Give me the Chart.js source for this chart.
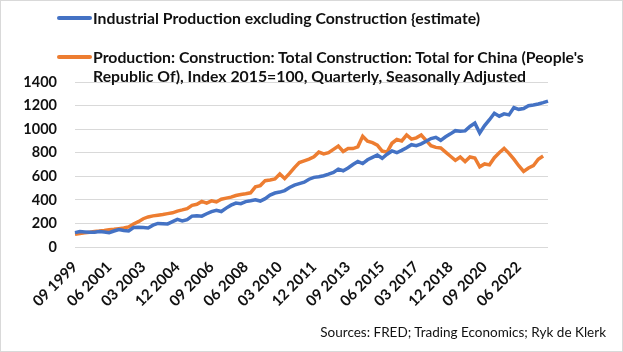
<!DOCTYPE html>
<html>
<head>
<meta charset="utf-8">
<script src="https://cdn.jsdelivr.net/npm/chart.js@4.4.1/dist/chart.umd.min.js"></script>
<style>
  body { margin:0; background:#fff; }
  #wrap { position:relative; width:623px; height:352px; overflow:hidden; }
  #frame { position:absolute; left:0; top:0; width:623px; height:352px; box-sizing:border-box; border:1px solid #d9d9d9; pointer-events:none; }
  .lg-line { position:absolute; left:57px; width:35px; height:4px; border-radius:2px; }
  .lg-text { position:absolute; left:93px; font-family:Lato, 'Open Sans', sans-serif; font-weight:bold; font-size:15.8px; line-height:19px; color:#111; white-space:nowrap; }
  #src { position:absolute; right:17px; top:324px; font-family:Lato, 'Open Sans', sans-serif; font-size:13.5px; color:#111; white-space:nowrap; }
</style>
</head>
<body>
<div id="wrap">
  <canvas id="chart" width="623" height="352"></canvas>
  <div class="lg-line" style="top:16px;background:#4472c4"></div>
  <div class="lg-text" style="top:8px">Industrial Production excluding Construction {estimate)</div>
  <div class="lg-line" style="top:55px;background:#ed7d31"></div>
  <div class="lg-text" style="top:47px">Production: Construction: Total Construction: Total for China (People's<br>Republic Of), Index 2015=100, Quarterly, Seasonally Adjusted</div>
  <div id="src">Sources: FRED; Trading Economics; Ryk de Klerk</div>
  <div id="frame"></div>
</div>
<script>
// quarterly, Q3 1999 .. Q4 2023
const START_YEAR = 1999, START_Q = 3, N_QUARTERS = 98;
const MONTHS = ['03', '06', '09', '12'];
const LABEL_EVERY = 7;

const industrial = [
  122, 131, 128, 125, 126, 131, 128, 122, 136, 148,
  140, 136, 165, 167, 165, 162, 185, 200, 198, 196,
  215, 234, 222, 232, 262, 266, 262, 282, 300, 312,
  301, 330, 355, 373, 368, 385, 392, 400, 390, 410,
  440, 458, 466, 479, 505, 525, 538, 550, 575, 591,
  596, 605, 618, 633, 661, 647, 670, 700, 725, 708,
  740, 760, 781, 753, 787, 815, 800, 820, 842, 868,
  860, 875, 898, 920, 931, 905, 935, 960, 987, 982,
  985, 1023, 1051, 967, 1030, 1080, 1135, 1110, 1130, 1121,
  1183, 1168, 1175, 1199, 1205, 1213, 1225, 1238
];

const construction = [
  109, 115, 120, 126, 131, 135, 140, 146, 150, 156,
  162, 170, 195, 215, 240, 255, 264, 270, 276, 283,
  290, 305, 315, 326, 354, 362, 387, 373, 392, 382,
  405, 415, 423, 437, 446, 452, 460, 510, 521, 563,
  569, 577, 619, 580, 624, 674, 716, 730, 745, 765,
  805, 790, 800, 828, 856, 810, 835, 835, 850, 940,
  898, 885, 865, 814, 805, 880, 912, 900, 950, 915,
  926, 950, 905, 860, 845, 840, 805, 770, 735, 764,
  725, 764, 755, 680, 705, 697, 758, 800, 837, 795,
  745, 690, 641, 670, 690, 745, 772, null
];

const labels = [];
for (let i = 0; i < N_QUARTERS; i++) {
  const q = START_Q - 1 + i;
  labels.push(MONTHS[q % 4] + ' ' + (START_YEAR + Math.floor(q / 4)));
}

new Chart(document.getElementById('chart'), {
  type: 'line',
  data: {
    labels,
    datasets: [
      { label: 'Industrial Production excluding Construction {estimate)', data: industrial,
        borderColor: '#4472c4', borderWidth: 3.5, pointRadius: 0, tension: 0, fill: false },
      { label: "Production: Construction: Total Construction: Total for China (People's Republic Of), Index 2015=100, Quarterly, Seasonally Adjusted",
        data: construction, borderColor: '#ed7d31', borderWidth: 3.5, pointRadius: 0, tension: 0, fill: false }
    ]
  },
  options: {
    responsive: false,
    animation: false,
    layout: { padding: { left: 0, right: 75, top: 82, bottom: 0 } },
    plugins: { legend: { display: false }, tooltip: { enabled: false } },
    scales: {
      x: {
        offset: false,
        grid: { display: false },
        border: { display: false },
        ticks: {
          autoSkip: false, minRotation: 45, maxRotation: 45, padding: 3,
          color: '#111', font: { family: 'Lato', weight: 'bold', size: 15 },
          callback: function (v, i) { return i % LABEL_EVERY === 0 ? this.getLabelForValue(v) : null; }
        },
        afterFit: s => { s.height = 105; }
      },
      y: {
        min: 0, max: 1400,
        grid: { color: '#d9d9d9', lineWidth: 1, drawTicks: false },
        border: { display: false },
        ticks: { stepSize: 200, padding: 18, color: '#111', font: { family: 'Lato', weight: 'bold', size: 14.5 },
          callback: v => String(v) },
        afterFit: s => { s.width = 75; }
      }
    }
  }
});
</script>
</body>
</html>
